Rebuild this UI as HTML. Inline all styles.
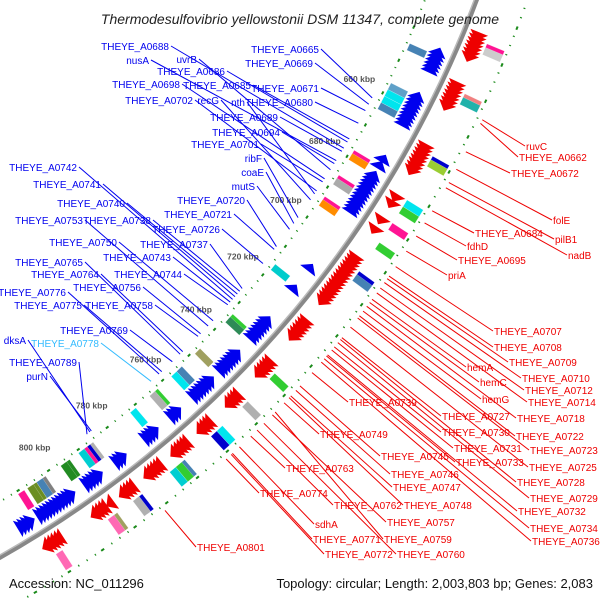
<!DOCTYPE html>
<html><head><meta charset="utf-8"><style>
html,body{margin:0;padding:0;background:#fff;}
svg{display:block;font-family:"Liberation Sans",sans-serif;}
</style></head><body>
<svg id="map" width="600" height="600" viewBox="0 0 600 600">
<g id="rings"></g>
<g id="feat"></g>
<g id="lbls"></g>
<text x="300" y="24" text-anchor="middle" font-size="14" font-style="italic" fill="#222">Thermodesulfovibrio yellowstonii DSM 11347, complete genome</text>
<text x="9" y="588" font-size="13" fill="#111">Accession: NC_011296</text>
<text x="593" y="588" text-anchor="end" font-size="13" fill="#111">Topology: circular; Length: 2,003,803 bp; Genes: 2,083</text>
</svg>
<script>
const tickKbp = [660,680,700,720,740,760,780,800];
const blueGenes = [644,645,646,647,648,649,657,658,659,660,661,662,663,664,665,676,678,681,682,683,684,685,686,687,688,689,690,691,692,711,718,729,730,731,732,733,734,735,741,742,743,744,745,746,747,751,752,753,754,755,756,757,763,764,765,771,772,773,774,782,783,784,790,791,792,793,794,799,800,801,802,803,804,805,806,807,808,809,812,813,814,815];
const redGenes = [636,637,638,639,640,641,642,650,651,652,653,654,655,656,668,669,670,671,672,673,674,675,683,685,690,693,702,703,704,705,706,707,708,709,710,711,712,713,714,715,716,723,724,725,726,727,728,737,738,739,740,741,749,750,751,752,759,760,761,762,767,768,769,770,771,776,777,778,779,780,785,786,787,788,792,794,795,796,797,808,809,810,811,812];
const innerBoxKbp = [646,658,660,662,664,679,680,687,688,694,695,717,735,736,748,755,757,764,765,772,787,788,789,790,795,796,803,804,806,807,810];
const innerBoxCol = ['#4682b4','#5fa0c8','#00e5ee','#00e5ee','#4682b4','#ff1493','#ff8c00','#ff1493','#aaaaaa','#ff1493','#ff8c00','#00cccc','#32cd32','#2e8b57','#a0a060','#4682b4','#00e5ee','#32cd32','#b0b0b0','#00e5ee','#b0b0b0','#0000cd','#ff1493','#00ced1','#228b22','#228b22','#808080','#4682b4','#6b8e23','#6b8e23','#ff1493'];
const outerBoxKbp = [638,639,652,653,670,671,683,685,690,696,705,706,739,749,758,760,771,772,774,785,786,793,794,810];
const outerBoxCol = ['#ff1493','#cccccc','#f08080','#20b2aa','#0000cd','#9acd32','#00e5ee','#32cd32','#ff1493','#32cd32','#0000cd','#4682b4','#32cd32','#b0b0b0','#00e5ee','#0000cd','#4682b4','#32cd32','#00ced1','#0000cd','#b0b0b0','#a0a060','#ff69b4','#ff69b4'];
const blueNames = ['THEYE_A0665','THEYE_A0669','THEYE_A0671','THEYE_A0680','THEYE_A0688','nusA','uvrB','THEYE_A0686','THEYE_A0698','THEYE_A0685','THEYE_A0702','recG','nth','THEYE_A0689','THEYE_A0694','THEYE_A0701','ribF','coaE','mutS','THEYE_A0720','THEYE_A0721','THEYE_A0726','THEYE_A0737','THEYE_A0742','THEYE_A0741','THEYE_A0740','THEYE_A0738','THEYE_A0753','THEYE_A0750','THEYE_A0743','THEYE_A0765','THEYE_A0764','THEYE_A0744','THEYE_A0776','THEYE_A0756','THEYE_A0775','THEYE_A0758','THEYE_A0769','dksA','THEYE_A0778','THEYE_A0789','purN'];
const blueKbp = [663,665,667,671,679,683,686,677,689,676,693,696,694,680,684,690,702,704,706,712,713,718,727,731,730,729,728,741,739,732,752,751,733,760,744,759,745,755,785,763,786,784.5];
const blueLx = [319,313,319,313,169,149,197,225,180,251,193,219,245,278,280,259,262,264,255,245,232,220,208,77,101,125,151,83,117,171,83,99,182,66,141,82,153,128,26,99,77,48];
const blueLy = [53,67,92,106,50,64,63,75,88,89,104,104,106,121,136,148,162,176,190,204,218,233,248,171,188,207,224,224,246,261,266,278,278,296,291,309,309,334,344,347,366,380];
const redNames = ['ruvC','THEYE_A0662','THEYE_A0672','folE','pilB1','nadB','THEYE_A0684','fdhD','THEYE_A0695','priA','THEYE_A0707','THEYE_A0708','THEYE_A0709','hemA','THEYE_A0710','hemC','THEYE_A0712','hemG','THEYE_A0714','THEYE_A0718','THEYE_A0739','THEYE_A0727','THEYE_A0722','THEYE_A0730','THEYE_A0723','THEYE_A0731','THEYE_A0733','THEYE_A0725','THEYE_A0749','THEYE_A0745','THEYE_A0746','THEYE_A0728','THEYE_A0747','THEYE_A0729','THEYE_A0763','THEYE_A0748','THEYE_A0774','THEYE_A0762','THEYE_A0732','THEYE_A0757','sdhA','THEYE_A0734','THEYE_A0771','THEYE_A0759','THEYE_A0736','THEYE_A0772','THEYE_A0760','THEYE_A0801'];
const redKbp = [655,656,664,669,672.8,674.3,681,684.6,688.5,693,697.7,700.6,701.4,707.8,702.6,708.8,704.3,711.5,705.8,710,731.5,720,713,723,713.7,724,726,716.6,741.8,736,737.5,720.6,739.4,721.6,753.6,740,762,751.4,725.6,746,757.5,726.9,759.9,745,728,760.3,749,782];
const redLx = [526,519,511,553,555,568,475,467,458,448,494,494,509,467,522,480,525,482,528,517,349,442,516,442,530,454,456,529,320,381,391,517,393,530,286,404,260,334,518,387,315,530,313,384,532,325,397,197];
const redLy = [150,161,177,224,243,259,237,250,264,279,335,351,366,371,382,386,394,403,406,422,406,420,440,436,454,452,466,471,438,460,478,486,491,502,472,509,497,509,515,526,528,532,543,543,545,558,558,551];

const CX=-530, CY=-378, NS='http://www.w3.org/2000/svg';
function ang(k){return (27.2+(k-660)*0.203)*Math.PI/180;}
function pt(k,r){const a=ang(k);return [CX+r*Math.cos(a),CY+r*Math.sin(a)];}
function mk(tag,attrs,parent){const e=document.createElementNS(NS,tag);for(const k in attrs)e.setAttribute(k,attrs[k]);parent.appendChild(e);return e;}
function arcPath(r,k0,k1){const p0=pt(k0,r),p1=pt(k1,r);return `M${p0[0]},${p0[1]} A${r},${r} 0 0 1 ${p1[0]},${p1[1]}`;}
const rings=document.getElementById('rings'), feat=document.getElementById('feat'), lbls=document.getElementById('lbls');

let bb=mk('path',{d:arcPath(1075,615,830),fill:'none',stroke:'#888',"stroke-width":5},rings);


let bb2=mk('path',{d:arcPath(1073,615,830),fill:'none',stroke:'#bbb',"stroke-width":1.5},rings);


[1027,1123].forEach(function(r){
  for(let k=620;k<=825;k+=2.5){
    const big=(k%10===0);
    const len=big?0.9:0.3;
    const d=mk('path',{d:arcPath(r,k,k+len),fill:'none',stroke:'#1a8a1a',"stroke-width":2},rings);
    
    
  }
});
tickKbp.forEach(function(k){
  const p=pt(k,1000);
  const t=mk('text',{x:p[0],y:p[1]+3,"text-anchor":"middle","font-size":"8.5","font-weight":"bold",fill:'#555'},rings);
  t.textContent=k+' kbp';
  
  
});
function box(k,r0,r1,col,name){
  const a=pt(k-1,r0),b=pt(k-1,r1),c=pt(k+1,r1),d=pt(k+1,r0);
  const e=mk('polygon',{points:[a,b,c,d].map(p=>p.join(',')).join(' '),fill:col,stroke:'rgba(255,255,255,0.4)',"stroke-width":0.5},feat);
  
  
}
function arrow(k,r0,r1,col,dir,name){
  const tail=k-dir*1.0, head=k+dir*1.3, rm=(r0+r1)/2;
  const P=[pt(tail,r0),pt(tail,r1),pt(head,rm)];
  const e=mk('polygon',{points:P.map(p=>p.join(',')).join(' '),fill:col},feat);
  
  
}
innerBoxKbp.forEach(function(k,i){box(k,1030,1049,innerBoxCol[i],'cog-box-reverse');});
outerBoxKbp.forEach(function(k,i){box(k,1101,1120,outerBoxCol[i],'cog-box-forward');});
blueGenes.forEach(function(k){arrow(k,1050,1069,'#0000ee',-1,'gene-reverse');});
redGenes.forEach(function(k){arrow(k,1080,1099,'#ee0000',1,'gene-forward');});

blueNames.forEach(function(n,i){
  const p=pt(blueKbp[i],1020);
  const col=n==='THEYE_A0778'?'#33bbff':'#0000ee';
  const l=mk('line',{x1:blueLx[i]+2,y1:blueLy[i]-4,x2:p[0],y2:p[1],stroke:col,"stroke-width":1},lbls);
  
  
  const t=mk('text',{x:blueLx[i],y:blueLy[i],"text-anchor":"end","font-size":"10",fill:col},lbls);
  t.textContent=n;
  
  
});
redNames.forEach(function(n,i){
  const p=pt(redKbp[i],1128);
  const l=mk('line',{x1:redLx[i]-1,y1:redLy[i]-4,x2:p[0],y2:p[1],stroke:'#ee0000',"stroke-width":1},lbls);
  
  
  const t=mk('text',{x:redLx[i],y:redLy[i],"font-size":"10",fill:'#ee0000'},lbls);
  t.textContent=n;
  
  
});
</script>
</body></html>
